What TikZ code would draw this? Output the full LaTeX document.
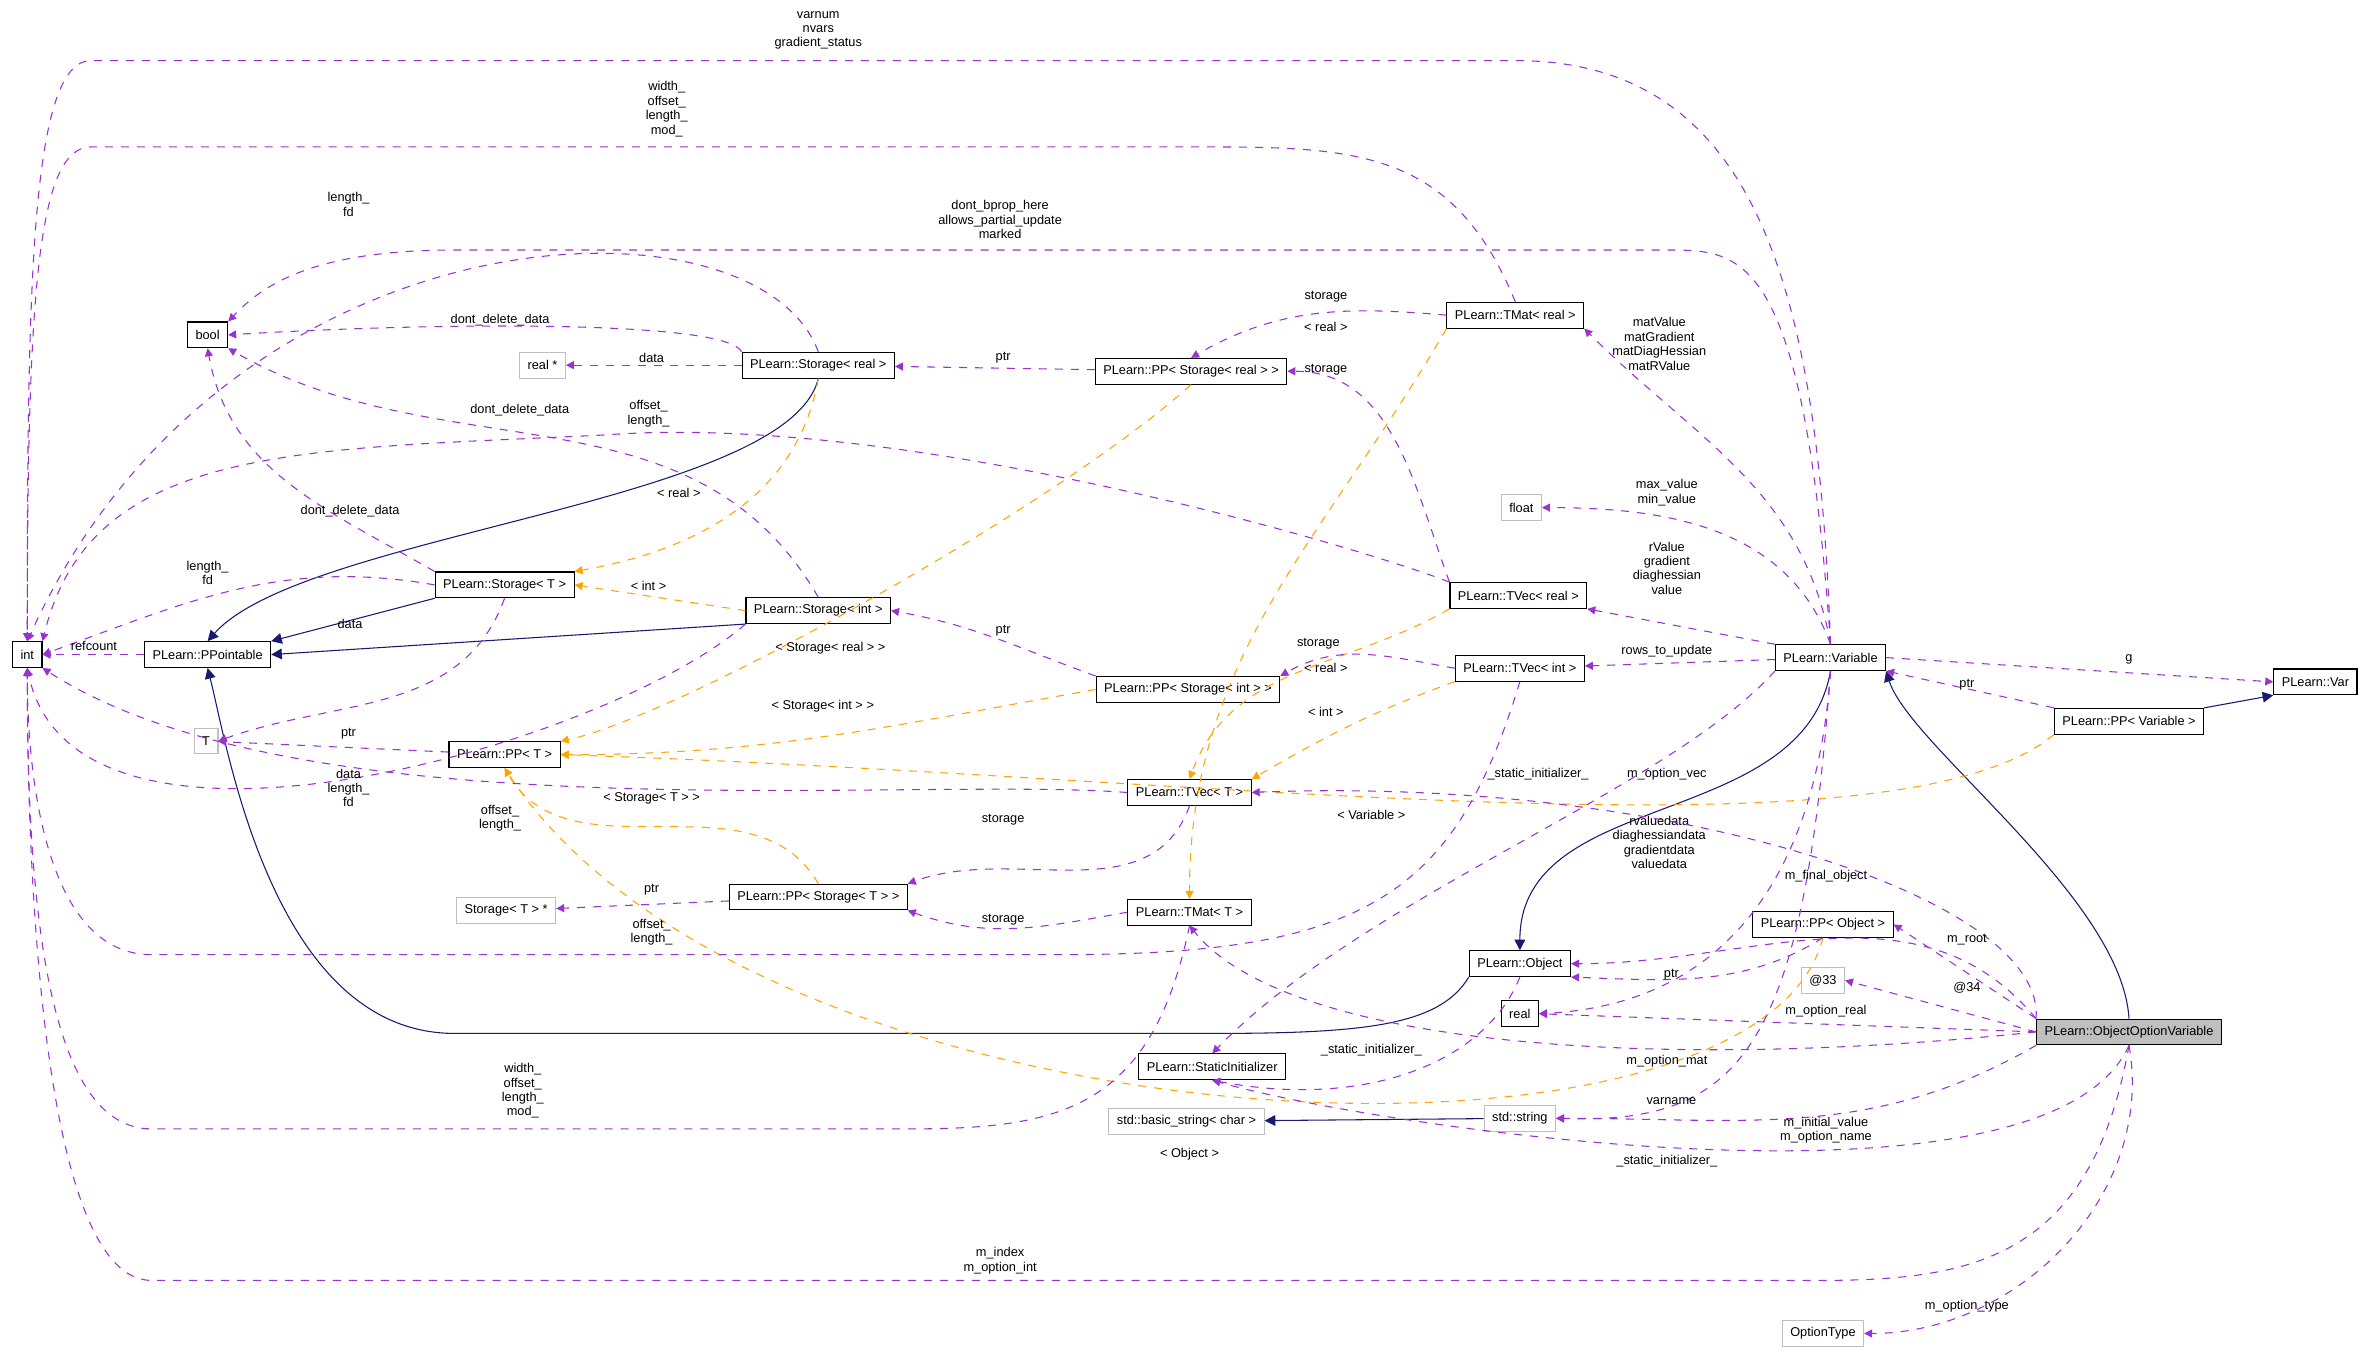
\documentclass[tikz,border=0pt]{standalone}
\usepackage{fontspec}
\setmainfont{Liberation Sans}
\usetikzlibrary{arrows.meta,positioning}
\definecolor{depcolor}{RGB}{154,50,205}
\definecolor{tplcolor}{RGB}{255,165,0}
\definecolor{inhcolor}{RGB}{25,25,112}
\definecolor{extcolor}{RGB}{191,191,191}

\begin{document}
\begin{tikzpicture}[
    x=0.02cm, y=0.02cm,
    every node/.style={font=\fontsize{4.8}{5.4}\selectfont},
    cls/.style={rectangle, draw=black, fill=white, minimum height=0.34cm, inner xsep=3pt, inner ysep=1pt},
    ext/.style={cls, draw=extcolor},
    focus/.style={cls, fill=extcolor},
    lbl/.style={align=center, inner sep=0pt},
    dep/.style={-{Triangle[length=3pt,width=3pt]}, depcolor, dashed, thin},
    tpl/.style={-{Triangle[length=3pt,width=3pt]}, tplcolor, dashed, thin},
    inh/.style={-{Triangle[length=4pt,width=4pt]}, inhcolor, thin}
]
\useasboundingbox (0,0) rectangle (1568,892);

% classes
\node[cls] (int) at (18,460) {int};
\node[cls] (ppointable) at (137,460) {PLearn::PPointable};
\node[cls] (bool) at (137,671) {bool};
\node[ext] (realptr) at (358,651) {real *};
\node[cls] (storeal) at (540,651) {PLearn::Storage< real >};
\node[cls] (ppstoreal) at (786,647) {PLearn::PP< Storage< real > >};
\node[cls] (tmatreal) at (1000,684) {PLearn::TMat< real >};
\node[ext] (float) at (1004,557) {float};
\node[cls] (tvecreal) at (1002,499) {PLearn::TVec< real >};
\node[cls] (stot) at (333,506) {PLearn::Storage< T >};
\node[cls] (stoint) at (540,489) {PLearn::Storage< int >};
\node[cls] (tvecint) at (1003,451) {PLearn::TVec< int >};
\node[cls] (ppstoint) at (784,437) {PLearn::PP< Storage< int > >};
\node[ext] (T) at (136,403) {T};
\node[cls] (ppt) at (333,394) {PLearn::PP< T >};
\node[cls] (tvect) at (785,369) {PLearn::TVec< T >};
\node[ext] (stotptr) at (334,291) {Storage< T > *};
\node[cls] (ppstot) at (540,300) {PLearn::PP< Storage< T > >};
\node[cls] (tmatt) at (785,290) {PLearn::TMat< T >};
\node[cls] (object) at (1003,256) {PLearn::Object};
\node[cls] (statinit) at (800,188) {PLearn::StaticInitializer};
\node[ext] (basicstr) at (783,152) {std::basic\_string< char >};
\node[ext] (stdstr) at (1003,154) {std::string};
\node[cls] (real) at (1003,223) {real};
\node[cls] (variable) at (1208,458) {PLearn::Variable};
\node[cls] (var) at (1528,442) {PLearn::Var};
\node[cls] (ppvar) at (1405,416) {PLearn::PP< Variable >};
\node[cls] (ppobj) at (1203,282) {PLearn::PP< Object >};
\node[ext] (at33) at (1203,245) {@33};
\node[focus] (oov) at (1405,211) {PLearn::ObjectOptionVariable};
\node[ext] (optiontype) at (1203,12) {OptionType};

% inheritance
\draw[inh] (storeal.south) .. controls (520,560) and (200,540) .. (ppointable.north);
\draw[inh] (stot.south west) -- (ppointable.north east);
\draw[inh] (stoint.south west) -- (ppointable.east);
\draw[inh] (object.south west) .. controls (950,215) and (900,210) .. (800,210) -- (300,210) .. controls (180,210) and (150,400) .. (ppointable.south);
\draw[inh] (stdstr) -- (basicstr);
\draw[inh] (variable.south) to[out=-100,in=90] (object.north);
\draw[inh] (ppvar.north east) -- (var.south west);
\draw[inh] (oov.north) .. controls (1400,300) and (1260,400) .. (variable.south east);

% templates
\draw[tpl] (storeal.south) to[out=-100,in=10] (stot.north east);
\draw[tpl] (stoint.west) -- (stot.east);
\draw[tpl] (ppstoreal.south) .. controls (700,560) and (450,420) .. (ppt.north east);
\draw[tpl] (ppstoint.west) to[out=190,in=0] (ppt.east);
\draw[tpl] (ppstot.north) to[out=120,in=-60] (ppt.south);
\draw[tpl] (tvecreal.south west) to[out=-150,in=70] (tvect.north);
\draw[tpl] (tvecint.south west) to[out=-160,in=30] (tvect.north east);
\draw[tpl] (tmatreal.south west) to[out=-120,in=90] (tmatt.north);
\draw[tpl] (ppvar.south west) .. controls (1250,320) and (800,380) .. (ppt.east);
\draw[tpl] (ppobj.south) .. controls (1160,100) and (500,130) .. (ppt.south);
\node[lbl] at (448,567) {< real >};
\node[lbl] at (428,505) {< int >};
\node[lbl] at (548,464) {< Storage< real > >};
\node[lbl] at (543,426) {< Storage< int > >};
\node[lbl] at (430,365) {< Storage< T > >};
\node[lbl] at (875,451) {< real >};
\node[lbl] at (875,422) {< int >};
\node[lbl] at (875,676) {< real >};
\node[lbl] at (905,354) {< Variable >};
\node[lbl] at (785,130) {< Object >};

% members
\draw[dep] (variable.north) .. controls (1200,700) and (1160,852) .. (1000,852) -- (60,852) .. controls (20,852) and (18,700) .. (int.north);
\node[lbl] at (540,872) {varnum\\nvars\\gradient\_status};
\draw[dep] (tmatreal.north) .. controls (960,790) and (900,795) .. (800,795) -- (60,795) .. controls (25,795) and (18,700) .. (int.north);
\node[lbl] at (440,820) {width\_\\offset\_\\length\_\\mod\_};
\draw[dep] (storeal.north) .. controls (500,770) and (150,760) .. (int.north);
\node[lbl] at (230,757) {length\_\\fd};
\draw[dep] (variable.north) .. controls (1190,727) and (1150,727) .. (1100,727) -- (300,727) .. controls (200,727) and (170,700) .. (bool.north east);
\node[lbl] at (660,747) {dont\_bprop\_here\\allows\_partial\_update\\marked};
\draw[dep] (storeal.north west) .. controls (480,680) and (300,680) .. (bool.east);
\node[lbl] at (330,681) {dont\_delete\_data};
\draw[dep] (storeal) -- (realptr);
\node[lbl] at (430,656) {data};
\draw[dep] (ppstoreal) -- (storeal);
\node[lbl] at (662,656) {ptr};
\draw[dep] (tmatreal.west) to[out=175,in=30] (ppstoreal.north);
\node[lbl] at (875,696) {storage};
\draw[dep] (variable.north) to[out=100,in=-45] (tmatreal.south east);
\node[lbl] at (1095,665) {matValue\\matGradient\\matDiagHessian\\matRValue};
\draw[dep] (tvecreal.north west) to[out=110,in=0] (ppstoreal.east);
\node[lbl] at (875,648) {storage};
\draw[dep] (stoint.north) to[out=120,in=-30] (bool.south east);
\node[lbl] at (343,621) {dont\_delete\_data};
\draw[dep] (tvecreal.north west) .. controls (900,530) and (600,620) .. (400,605) .. controls (200,595) and (60,600) .. (int.north east);
\node[lbl] at (428,619) {offset\_\\length\_};
\draw[dep] (stot.north west) to[out=150,in=-80] (bool.south);
\node[lbl] at (231,555) {dont\_delete\_data};
\draw[dep] (stot.west) to[out=170,in=20] (int.east);
\node[lbl] at (137,514) {length\_\\fd};
\draw[dep] (stot.south) to[out=-110,in=20] (T.east);
\node[lbl] at (231,480) {data};
\draw[dep] (stoint.south west) .. controls (400,400) and (50,300) .. (int.south);
\node[lbl] at (230,372) {data\\length\_\\fd};
\draw[dep] (ppointable) -- (int);
\node[lbl] at (62,466) {refcount};
\draw[dep] (ppt) -- (T);
\node[lbl] at (230,408) {ptr};
\draw[dep] (ppstoint.north west) to[out=160,in=-10] (stoint.east);
\node[lbl] at (662,476) {ptr};
\draw[dep] (tvecint.west) to[out=170,in=30] (ppstoint.north east);
\node[lbl] at (870,467) {storage};
\draw[dep] (variable.north west) -- (tvecreal.south east);
\node[lbl] at (1100,517) {rValue\\gradient\\diaghessian\\value};
\draw[dep] (variable.north) to[out=110,in=0] (float.east);
\node[lbl] at (1100,567) {max\_value\\min\_value};
\draw[dep] (variable) -- (tvecint);
\node[lbl] at (1100,462) {rows\_to\_update};
\draw[dep] (tvecint.south) .. controls (960,300) and (900,262) .. (700,262) -- (100,262) .. controls (30,262) and (18,380) .. (int.south);
\node[lbl] at (430,277) {offset\_\\length\_};
\draw[dep] (tvect.west) .. controls (600,380) and (200,340) .. (int.south east);
\node[lbl] at (330,352) {offset\_\\length\_};
\draw[dep] (tvect.south) to[out=-110,in=20] (ppstot.north east);
\node[lbl] at (662,351) {storage};
\draw[dep] (ppstot) -- (stotptr);
\node[lbl] at (430,305) {ptr};
\draw[dep] (tmatt.west) to[out=190,in=-20] (ppstot.south east);
\node[lbl] at (662,285) {storage};
\draw[dep] (tmatt.south) .. controls (760,160) and (700,147) .. (600,147) -- (100,147) .. controls (30,147) and (18,300) .. (int.south);
\node[lbl] at (345,172) {width\_\\offset\_\\length\_\\mod\_};
\draw[dep] (object.south) .. controls (980,190) and (900,160) .. (statinit.south);
\node[lbl] at (905,199) {\_static\_initializer\_};
\draw[dep] (variable.south west) .. controls (1100,370) and (900,300) .. (statinit.north);
\node[lbl] at (1015,381) {\_static\_initializer\_};
\draw[dep] (variable.south) .. controls (1200,330) and (1150,230) .. (real.east);
\node[lbl] at (1095,336) {rvaluedata\\diaghessiandata\\gradientdata\\valuedata};
\draw[dep] (variable.east) -- (var.west);
\node[lbl] at (1405,457) {g};
\draw[dep] (ppvar.north west) -- (variable.south east);
\node[lbl] at (1298,440) {ptr};
\draw[dep] (ppobj.south) .. controls (1150,240) and (1100,245) .. (object.south east);
\node[lbl] at (1103,249) {ptr};
\draw[dep] (oov.north west) .. controls (1350,300) and (1100,380) .. (tvect.east);
\node[lbl] at (1100,381) {m\_option\_vec};
\draw[dep] (oov.north west) to[out=130,in=0] (object.east);
\node[lbl] at (1205,314) {m\_final\_object};
\draw[dep] (oov.north west) -- (ppobj.east);
\node[lbl] at (1298,272) {m\_root};
\draw[dep] (oov.west) -- (at33.east);
\node[lbl] at (1298,240) {@34};
\draw[dep] (oov.west) -- (real.east);
\node[lbl] at (1205,225) {m\_option\_real};
\draw[dep] (oov.west) .. controls (1100,185) and (850,200) .. (tmatt.south);
\node[lbl] at (1100,192) {m\_option\_mat};
\draw[dep] (oov.south west) to[out=-150,in=0] (stdstr.east);
\node[lbl] at (1205,146) {m\_initial\_value\\m\_option\_name};
\draw[dep] (oov.south) .. controls (1350,80) and (900,150) .. (statinit.south);
\node[lbl] at (1100,126) {\_static\_initializer\_};
\draw[dep] (oov.south) .. controls (1380,60) and (1300,47) .. (1200,47) -- (100,47) .. controls (30,47) and (18,300) .. (int.south);
\node[lbl] at (660,60) {m\_index\\m\_option\_int};
\draw[dep] (oov.south) to[out=-80,in=0] (optiontype.east);
\node[lbl] at (1298,30) {m\_option\_type};
\draw[dep] (variable.south) .. controls (1190,200) and (1150,150) .. (stdstr.east);
\node[lbl] at (1103,165) {varname};
\end{tikzpicture}
\end{document}
